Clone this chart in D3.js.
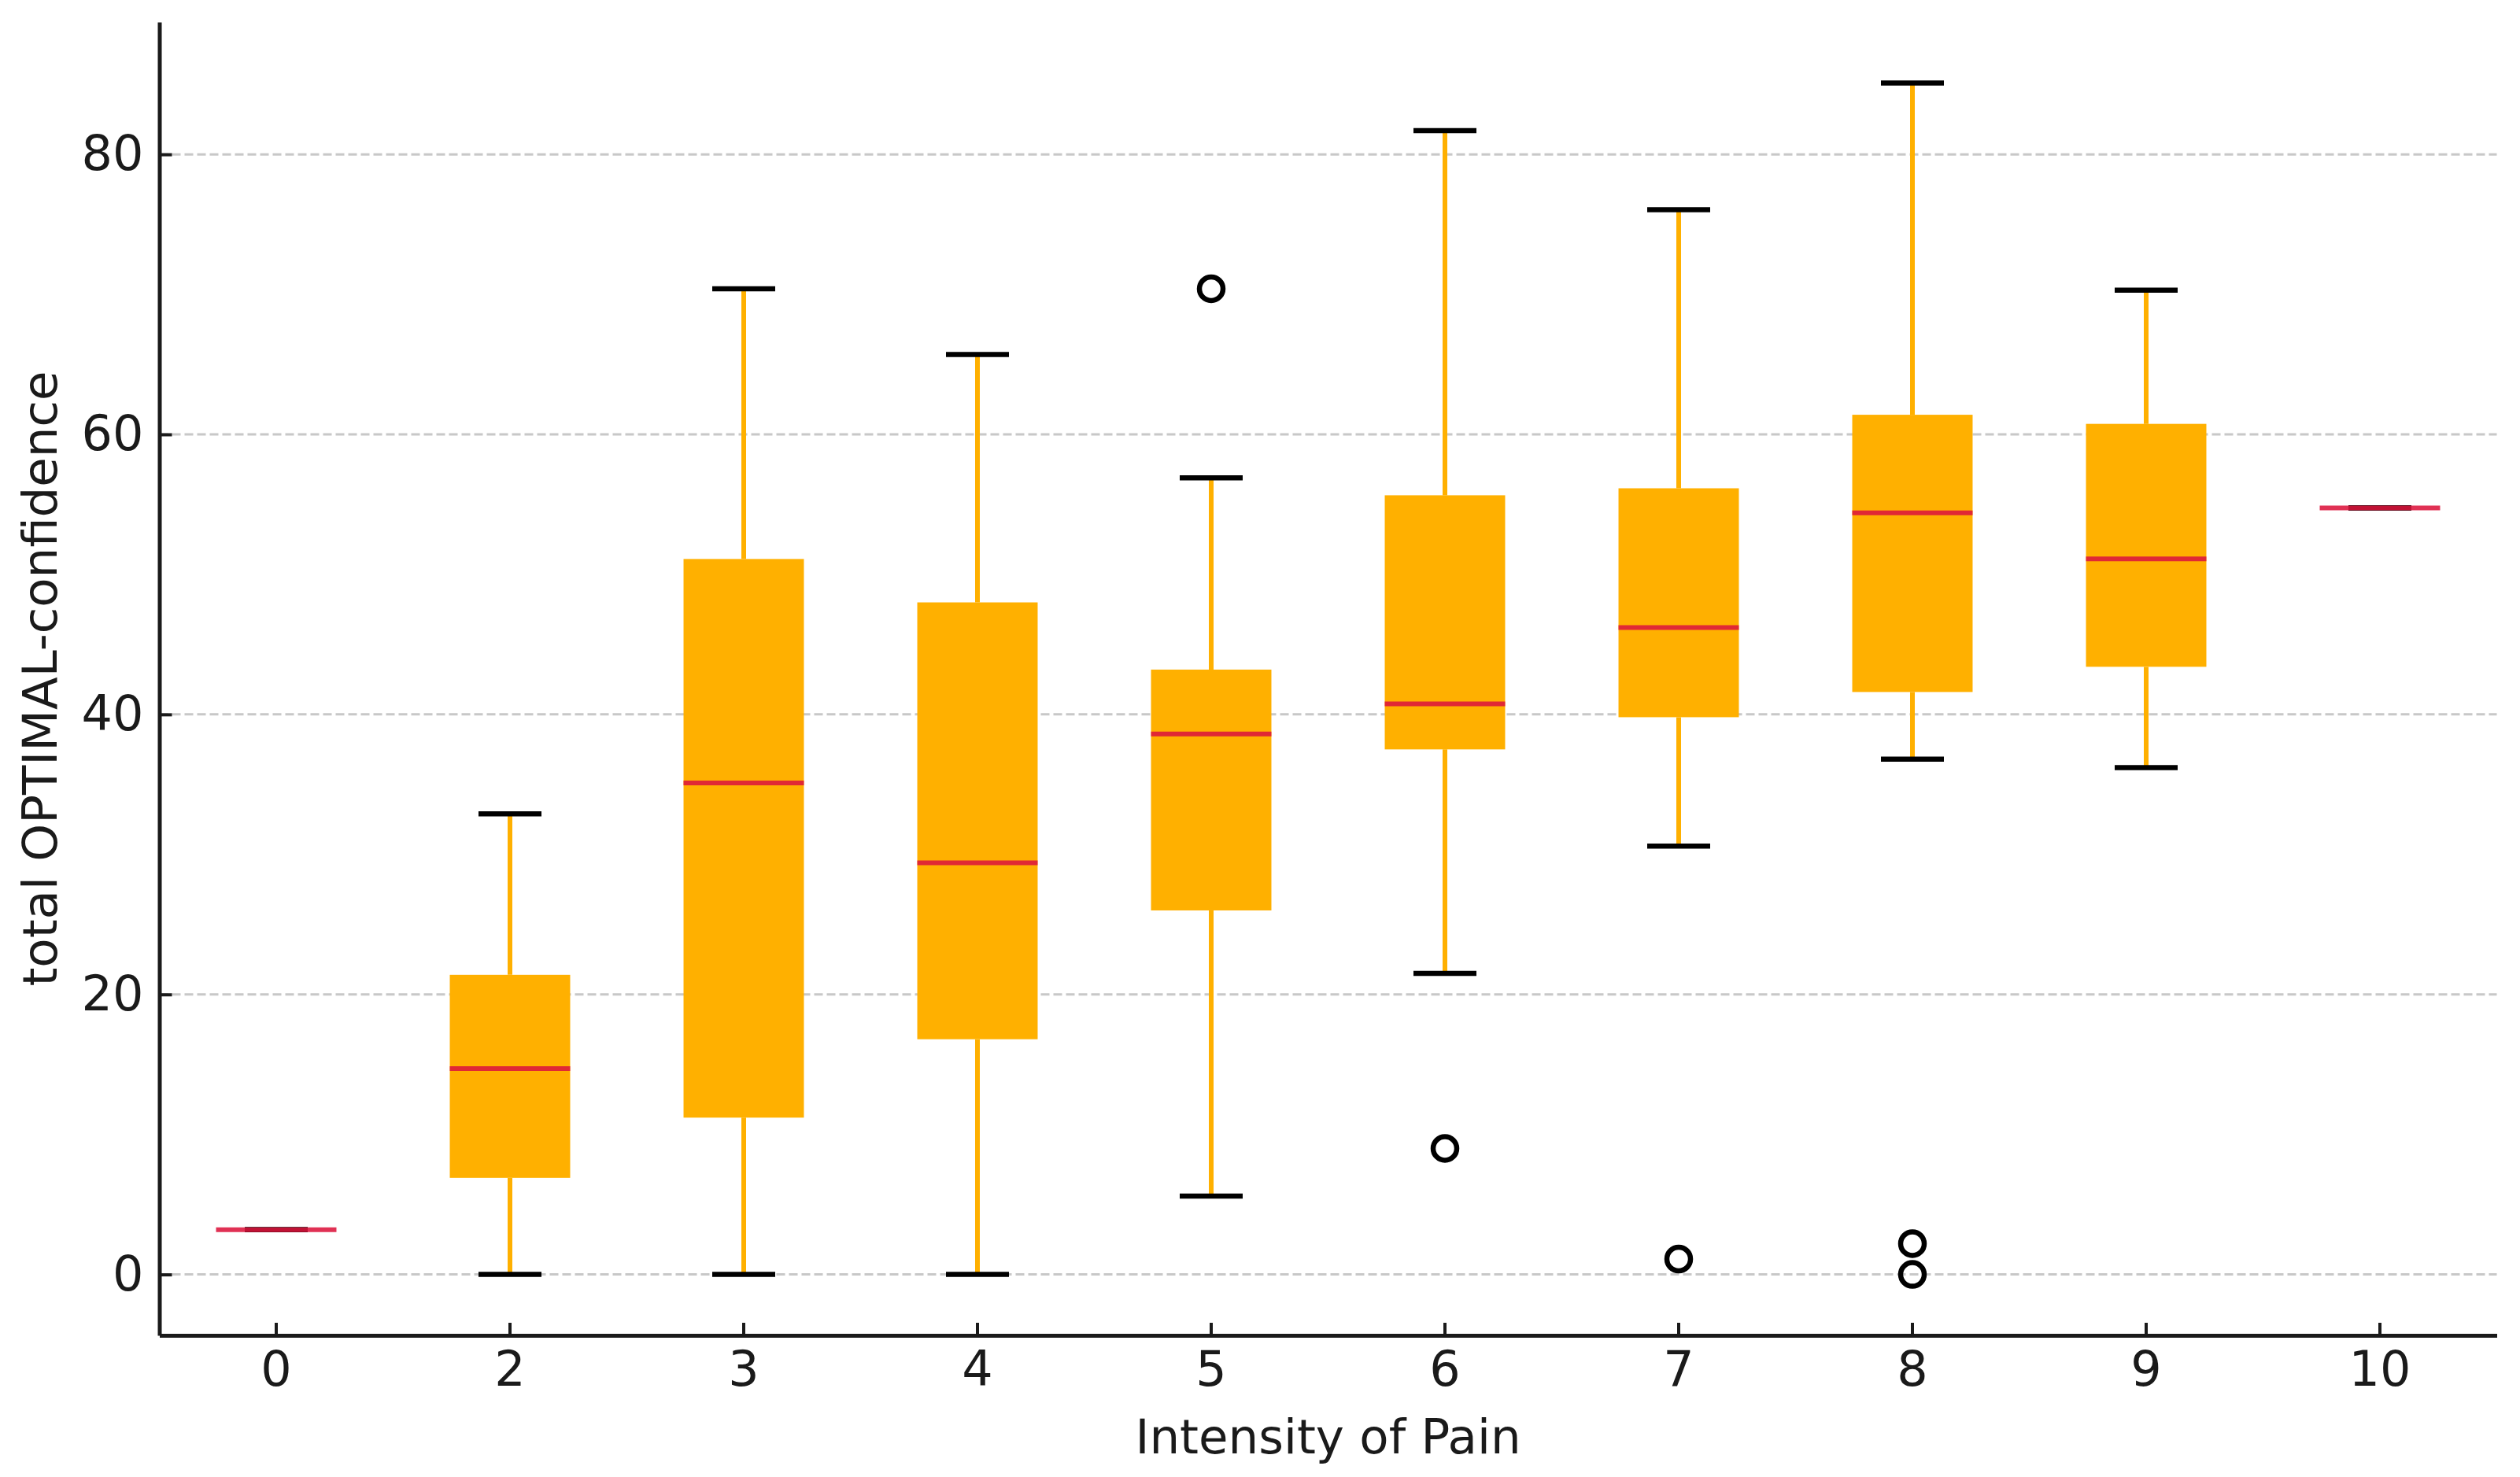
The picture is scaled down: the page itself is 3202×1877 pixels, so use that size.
<!DOCTYPE html>
<html>
<head>
<meta charset="utf-8">
<script src="https://cdn.jsdelivr.net/npm/d3@7"></script>
<style>
  body { margin: 0; background: #fff; }
  text { font-family: "DejaVu Sans", sans-serif; fill: #1a1a1a; }
</style>
</head>
<body>
<div class="chart"></div>
<script>
// Pain intensity groups (x axis)
const categories = ["0", "2", "3", "4", "5", "6", "7", "8", "9", "10"];

// five-number summary per group
const whiskerLow  = [3.2, 0,    0,    0,    5.6,  21.5,  30.6,  36.8, 36.2,  54.75];
const q1          = [3.2, 6.9,  11.2, 16.8, 26.0, 37.5,  39.8,  41.6, 43.4,  54.75];
const median      = [3.2, 14.7, 35.1, 29.4, 38.6, 40.75, 46.2,  54.4, 51.1,  54.75];
const q3          = [3.2, 21.4, 51.1, 48.0, 43.2, 55.65, 56.15, 61.4, 60.75, 54.75];
const whiskerHigh = [3.2, 32.9, 70.4, 65.7, 56.9, 81.7,  76.05, 85.1, 70.3,  54.75];
const outliers    = [[], [], [], [], [70.4], [9.0], [1.1], [2.2, 0], [], []];

const yTicks = [0, 20, 40, 60, 80];

const W = 3202, H = 1877;
const plot = { left: 202.5, right: 3172.5, top: 28, bottom: 1697 };

const data = categories.map((c, i) => ({
    cat: c,
    low: whiskerLow[i], q1: q1[i], med: median[i], q3: q3[i], high: whiskerHigh[i],
    out: outliers[i]
}));

const svg = d3.select(".chart")
    .append("svg")
    .attr("width", W)
    .attr("height", H);

// scales
const x = d3.scaleBand()
    .domain(categories)
    .range([plot.left, plot.right])
    .padding(0);

const y = d3.scaleLinear()
    .domain([-4.35, 89.45])
    .range([plot.bottom, plot.top]);

const cx = d => x(d.cat) + x.bandwidth() / 2;
const boxW = x.bandwidth() * 0.515;
const capHalf = 40;

// grid (under the boxes)
svg.append("g")
    .selectAll("line")
    .data(yTicks)
    .join("line")
    .attr("x1", plot.left)
    .attr("x2", plot.right)
    .attr("y1", d => y(d))
    .attr("y2", d => y(d))
    .attr("stroke", "#c8c8c8")
    .attr("stroke-width", 3)
    .attr("stroke-dasharray", "11 5");

const g = svg.append("g");

// whiskers
g.selectAll(".whisker-low")
    .data(data)
    .join("line")
    .attr("x1", cx).attr("x2", cx)
    .attr("y1", d => y(d.q1)).attr("y2", d => y(d.low))
    .attr("stroke", "#FFB000")
    .attr("stroke-width", 6);

g.selectAll(".whisker-high")
    .data(data)
    .join("line")
    .attr("x1", cx).attr("x2", cx)
    .attr("y1", d => y(d.q3)).attr("y2", d => y(d.high))
    .attr("stroke", "#FFB000")
    .attr("stroke-width", 6);

// caps
["low", "high"].forEach(k => {
    g.selectAll(".cap-" + k)
        .data(data)
        .join("line")
        .attr("x1", d => cx(d) - capHalf)
        .attr("x2", d => cx(d) + capHalf)
        .attr("y1", d => y(d[k]))
        .attr("y2", d => y(d[k]))
        .attr("stroke", "#000")
        .attr("stroke-width", 6.5);
});

// boxes
g.selectAll("rect")
    .data(data)
    .join("rect")
    .attr("x", d => cx(d) - boxW / 2)
    .attr("width", boxW)
    .attr("y", d => y(d.q3))
    .attr("height", d => y(d.q1) - y(d.q3))
    .attr("fill", "#FFB000");

// medians (semi transparent crimson)
g.selectAll(".median")
    .data(data)
    .join("line")
    .attr("x1", d => cx(d) - boxW / 2)
    .attr("x2", d => cx(d) + boxW / 2)
    .attr("y1", d => y(d.med))
    .attr("y2", d => y(d.med))
    .attr("stroke", "crimson")
    .attr("stroke-opacity", 0.88)
    .attr("stroke-width", 6);

// fliers
const fliers = data.flatMap(d => d.out.map(v => ({ cat: d.cat, v: v })));
g.selectAll("circle")
    .data(fliers)
    .join("circle")
    .attr("cx", cx)
    .attr("cy", d => y(d.v))
    .attr("r", 15)
    .attr("fill", "none")
    .attr("stroke", "#000")
    .attr("stroke-width", 6.5);

// axes, ticks pointing inward
const xAxis = svg.append("g")
    .attr("transform", `translate(0,${plot.bottom})`)
    .call(d3.axisBottom(x).tickSize(-16).tickPadding(20).tickSizeOuter(0));

const yAxis = svg.append("g")
    .attr("transform", `translate(${plot.left},0)`)
    .call(d3.axisLeft(y).tickValues(yTicks).tickSize(-16).tickPadding(20).tickSizeOuter(0));

[xAxis, yAxis].forEach(a => {
    a.select(".domain").attr("stroke", "#1a1a1a").attr("stroke-width", 5);
    a.selectAll(".tick line").attr("stroke", "#1a1a1a").attr("stroke-width", 4);
    a.selectAll(".tick text")
        .attr("font-size", 62)
        .attr("font-family", "DejaVu Sans")
        .attr("fill", "#1a1a1a");
});

// axis titles
svg.append("text")
    .attr("x", (plot.left + plot.right) / 2)
    .attr("y", 1847)
    .attr("text-anchor", "middle")
    .attr("font-size", 61)
    .text("Intensity of Pain");

svg.append("text")
    .attr("transform", `translate(72,${(plot.top + plot.bottom) / 2}) rotate(-90)`)
    .attr("text-anchor", "middle")
    .attr("font-size", 61)
    .text("total OPTIMAL-confidence");
</script>
</body>
</html>
